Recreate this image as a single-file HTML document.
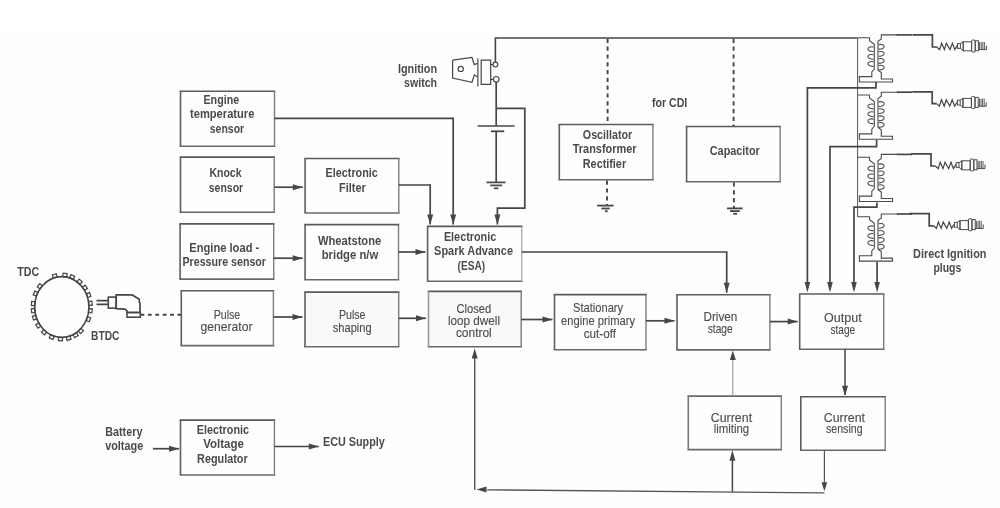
<!DOCTYPE html>
<html><head><meta charset="utf-8"><style>
html,body{margin:0;padding:0;background:#fff;}
svg{display:block;filter:grayscale(1);}
text{font-family:"Liberation Sans",sans-serif;}
</style></head><body>
<svg width="1000" height="508" viewBox="0 0 1000 508">
<rect width="1000" height="508" fill="#fff"/>
<rect y="33" width="1000" height="475" fill="#fefefe"/>
<path d="M179.7,91.3 H275.3" stroke="#5a5a5a" stroke-width="1.6"/>
<path d="M179.7,146.3 H275.3" stroke="#686868" stroke-width="1.6"/>
<path d="M180.5,91.3 V146.3" stroke="#5e5e5e" stroke-width="1.6"/>
<path d="M274.5,91.3 V146.3" stroke="#7c7c7c" stroke-width="1.4000000000000001"/>
<path d="M179.7,157.1 H275.0" stroke="#5a5a5a" stroke-width="1.6"/>
<path d="M179.7,212.2 H275.0" stroke="#686868" stroke-width="1.6"/>
<path d="M180.5,157.1 V212.2" stroke="#5e5e5e" stroke-width="1.6"/>
<path d="M274.2,157.1 V212.2" stroke="#7c7c7c" stroke-width="1.4000000000000001"/>
<path d="M179.29999999999998,223.9 H274.5" stroke="#5a5a5a" stroke-width="1.6"/>
<path d="M179.29999999999998,279.1 H274.5" stroke="#686868" stroke-width="1.6"/>
<path d="M180.1,223.9 V279.1" stroke="#5e5e5e" stroke-width="1.6"/>
<path d="M273.7,223.9 V279.1" stroke="#7c7c7c" stroke-width="1.4000000000000001"/>
<path d="M180.5,290.8 H274.2" stroke="#5a5a5a" stroke-width="1.6"/>
<path d="M180.5,345.6 H274.2" stroke="#686868" stroke-width="1.6"/>
<path d="M181.3,290.8 V345.6" stroke="#5e5e5e" stroke-width="1.6"/>
<path d="M273.4,290.8 V345.6" stroke="#7c7c7c" stroke-width="1.4000000000000001"/>
<path d="M304.3,158.5 H399.6" stroke="#5a5a5a" stroke-width="1.6"/>
<path d="M304.3,213 H399.6" stroke="#686868" stroke-width="1.6"/>
<path d="M305.1,158.5 V213" stroke="#5e5e5e" stroke-width="1.6"/>
<path d="M398.8,158.5 V213" stroke="#7c7c7c" stroke-width="1.4000000000000001"/>
<path d="M304.3,224.6 H399.3" stroke="#5a5a5a" stroke-width="1.6"/>
<path d="M304.3,279.8 H399.3" stroke="#686868" stroke-width="1.6"/>
<path d="M305.1,224.6 V279.8" stroke="#5e5e5e" stroke-width="1.6"/>
<path d="M398.5,224.6 V279.8" stroke="#7c7c7c" stroke-width="1.4000000000000001"/>
<rect x="305" y="292.1" width="93.7" height="54.6" fill="#f9f9f9"/>
<path d="M304.2,292.1 H399.5" stroke="#5a5a5a" stroke-width="1.6"/>
<path d="M304.2,346.7 H399.5" stroke="#686868" stroke-width="1.6"/>
<path d="M305,292.1 V346.7" stroke="#5e5e5e" stroke-width="1.6"/>
<path d="M398.7,292.1 V346.7" stroke="#7c7c7c" stroke-width="1.4000000000000001"/>
<path d="M426.8,226.4 H522.5" stroke="#5a5a5a" stroke-width="1.6"/>
<path d="M426.8,281.2 H522.5" stroke="#686868" stroke-width="1.6"/>
<path d="M427.6,226.4 V281.2" stroke="#5e5e5e" stroke-width="1.6"/>
<path d="M521.7,226.4 V281.2" stroke="#b0b0b0" stroke-width="1.4000000000000001"/>
<rect x="428.5" y="291.4" width="92.7" height="55.3" fill="#f9f9f9"/>
<path d="M427.7,291.4 H522.0" stroke="#5a5a5a" stroke-width="1.6"/>
<path d="M427.7,346.7 H522.0" stroke="#686868" stroke-width="1.6"/>
<path d="M428.5,291.4 V346.7" stroke="#9a9a9a" stroke-width="1.6"/>
<path d="M521.2,291.4 V346.7" stroke="#7c7c7c" stroke-width="1.4000000000000001"/>
<path d="M553.7,294.6 H646.8" stroke="#5a5a5a" stroke-width="1.6"/>
<path d="M553.7,349.8 H646.8" stroke="#686868" stroke-width="1.6"/>
<path d="M554.5,294.6 V349.8" stroke="#5e5e5e" stroke-width="1.6"/>
<path d="M646,294.6 V349.8" stroke="#7c7c7c" stroke-width="1.4000000000000001"/>
<path d="M676.2,294.8 H770.6999999999999" stroke="#5a5a5a" stroke-width="1.6"/>
<path d="M676.2,349.9 H770.6999999999999" stroke="#686868" stroke-width="1.6"/>
<path d="M677,294.8 V349.9" stroke="#5e5e5e" stroke-width="1.6"/>
<path d="M769.9,294.8 V349.9" stroke="#7c7c7c" stroke-width="1.4000000000000001"/>
<path d="M798.9000000000001,294 H884.5" stroke="#5a5a5a" stroke-width="1.6"/>
<path d="M798.9000000000001,349.2 H884.5" stroke="#686868" stroke-width="1.6"/>
<path d="M799.7,294 V349.2" stroke="#5e5e5e" stroke-width="1.6"/>
<path d="M883.7,294 V349.2" stroke="#7c7c7c" stroke-width="1.4000000000000001"/>
<path d="M687.5,396.1 H782.0999999999999" stroke="#6a6a6a" stroke-width="1.6"/>
<path d="M687.5,449.6 H782.0999999999999" stroke="#6a6a6a" stroke-width="1.6"/>
<path d="M688.3,396.1 V449.6" stroke="#7a7a7a" stroke-width="1.6"/>
<path d="M781.3,396.1 V449.6" stroke="#7c7c7c" stroke-width="1.4000000000000001"/>
<path d="M800.0,396.7 H886.0" stroke="#5a5a5a" stroke-width="1.6"/>
<path d="M800.0,450.2 H886.0" stroke="#686868" stroke-width="1.6"/>
<path d="M800.8,396.7 V450.2" stroke="#5e5e5e" stroke-width="1.6"/>
<path d="M885.2,396.7 V450.2" stroke="#7c7c7c" stroke-width="1.4000000000000001"/>
<path d="M179.7,420.1 H275.2" stroke="#5a5a5a" stroke-width="1.6"/>
<path d="M179.7,475 H275.2" stroke="#686868" stroke-width="1.6"/>
<path d="M180.5,420.1 V475" stroke="#5e5e5e" stroke-width="1.6"/>
<path d="M274.4,420.1 V475" stroke="#7c7c7c" stroke-width="1.4000000000000001"/>
<path d="M558.5,124.5 H653.6999999999999" stroke="#5a5a5a" stroke-width="1.6"/>
<path d="M558.5,179.8 H653.6999999999999" stroke="#686868" stroke-width="1.6"/>
<path d="M559.3,124.5 V179.8" stroke="#5e5e5e" stroke-width="1.6"/>
<path d="M652.9,124.5 V179.8" stroke="#7c7c7c" stroke-width="1.4000000000000001"/>
<path d="M685.8000000000001,126.5 H780.9" stroke="#5a5a5a" stroke-width="1.6"/>
<path d="M685.8000000000001,181.8 H780.9" stroke="#686868" stroke-width="1.6"/>
<path d="M686.6,126.5 V181.8" stroke="#5e5e5e" stroke-width="1.6"/>
<path d="M780.1,126.5 V181.8" stroke="#7c7c7c" stroke-width="1.4000000000000001"/>
<polyline points="274.5,187.2 302.8,187.2" fill="none" stroke="#464646" stroke-width="1.7"/>
<polygon points="302.8,187.2 292.8,184.2 292.8,190.2" fill="#464646"/>
<polyline points="273.7,258.2 302.7,258.2" fill="none" stroke="#464646" stroke-width="1.7"/>
<polygon points="302.7,258.2 292.7,255.2 292.7,261.2" fill="#464646"/>
<polyline points="273.4,317 302.5,317" fill="none" stroke="#464646" stroke-width="1.7"/>
<polygon points="302.5,317.0 292.5,314.0 292.5,320.0" fill="#464646"/>
<polyline points="398.7,318.3 426,318.3" fill="none" stroke="#464646" stroke-width="1.7"/>
<polygon points="426.0,318.3 416.0,315.3 416.0,321.3" fill="#464646"/>
<polyline points="398.5,252 425.5,252" fill="none" stroke="#464646" stroke-width="1.7"/>
<polygon points="425.5,252.0 415.5,249.0 415.5,255.0" fill="#464646"/>
<polyline points="274.5,118.4 453.2,118.4 453.2,224.5" fill="none" stroke="#464646" stroke-width="1.7"/>
<polygon points="453.2,224.5 450.2,214.5 456.2,214.5" fill="#464646"/>
<polyline points="398.8,185 430.2,185 430.2,224.5" fill="none" stroke="#464646" stroke-width="1.7"/>
<polygon points="430.2,224.5 427.2,214.5 433.2,214.5" fill="#464646"/>
<polyline points="521.2,319.5 552.5,319.5" fill="none" stroke="#464646" stroke-width="1.7"/>
<polygon points="552.5,319.5 542.5,316.5 542.5,322.5" fill="#464646"/>
<polyline points="646,320.8 674.5,320.8" fill="none" stroke="#464646" stroke-width="1.7"/>
<polygon points="674.5,320.8 664.5,317.8 664.5,323.8" fill="#464646"/>
<polyline points="769.9,321.6 797.7,321.6" fill="none" stroke="#464646" stroke-width="1.7"/>
<polygon points="797.7,321.6 787.7,318.6 787.7,324.6" fill="#464646"/>
<polyline points="521.7,252 726.7,252 726.7,292.7" fill="none" stroke="#464646" stroke-width="1.7"/>
<polygon points="726.7,292.7 723.7,282.7 729.7,282.7" fill="#464646"/>
<polyline points="845,349.2 845,395" fill="none" stroke="#464646" stroke-width="1.5"/>
<polygon points="845.0,395.8 842.0,385.8 848.0,385.8" fill="#464646"/>
<polyline points="732.8,395.5 732.8,358" fill="none" stroke="#8a8a8a" stroke-width="1.0"/>
<polygon points="732.8,350.6 729.8,360.0 735.8,360.0" fill="#464646"/>
<polyline points="824.4,450.2 824.4,485" fill="none" stroke="#555" stroke-width="1.2"/>
<polygon points="824.4,491.2 821.6,482.2 827.2,482.2" fill="#464646"/>
<polyline points="824.4,492.9 487,489.8" fill="none" stroke="#555" stroke-width="1.3"/>
<polygon points="476.5,489.6 486.5,486.6 486.5,492.6" fill="#464646"/>
<polyline points="474.7,489.8 474.7,356" fill="none" stroke="#505050" stroke-width="1.4"/>
<polygon points="474.7,348.5 471.7,358.5 477.7,358.5" fill="#464646"/>
<polyline points="732.4,491.8 732.4,458" fill="none" stroke="#464646" stroke-width="1.5"/>
<polygon points="732.4,450.2 729.4,460.7 735.4,460.7" fill="#464646"/>
<polyline points="152.9,448.7 179,448.7" fill="none" stroke="#464646" stroke-width="1.7"/>
<polygon points="179.0,448.7 169.0,445.7 169.0,451.7" fill="#464646"/>
<polyline points="274.4,446.5 318.8,446.5" fill="none" stroke="#464646" stroke-width="1.7"/>
<polygon points="318.8,446.5 308.8,443.5 308.8,449.5" fill="#464646"/>
<polyline points="140.5,314.8 181.3,314.8" fill="none" stroke="#464646" stroke-width="1.9" stroke-dasharray="3.8,3.6"/>
<polyline points="495.4,62.2 495.4,38 857.5,38" fill="none" stroke="#464646" stroke-width="1.6"/>
<circle cx="495.4" cy="64.6" r="2.4" fill="none" stroke="#464646" stroke-width="1.2"/>
<circle cx="496.2" cy="79.3" r="2.8" fill="none" stroke="#464646" stroke-width="1.2"/>
<path d="M452.6,60.2 L472,57.5 L474.3,64.6 L477.3,63.4 M452.6,60.2 L452.6,78 L472,82.3 L474.3,75 L477.3,76.8" fill="none" stroke="#464646" stroke-width="1.2"/>
<circle cx="460.7" cy="68.9" r="2.6" fill="none" stroke="#464646" stroke-width="1.2"/>
<path d="M477.9,58.3 L477.9,86.6 M481.2,60.2 L490.7,60.2 L490.7,84.3 L481.2,84.3 Z" fill="none" stroke="#464646" stroke-width="1.2"/>
<path d="M490.7,64.6 L493,64.6 M490.7,79.3 L493.4,79.3" fill="none" stroke="#464646" stroke-width="1.2"/>
<polyline points="496.2,82.1 496.2,126" fill="none" stroke="#464646" stroke-width="1.7"/>
<polyline points="477.6,126 514.5,126" fill="none" stroke="#464646" stroke-width="1.6"/>
<polyline points="490.9,131.3 504.2,131.3" fill="none" stroke="#464646" stroke-width="1.8"/>
<polyline points="496.2,131.3 496.2,182.4" fill="none" stroke="#464646" stroke-width="1.7"/>
<polyline points="486.4,182.4 505.6,182.4" fill="none" stroke="#464646" stroke-width="1.7"/>
<polyline points="490.3,185.4 502.1,185.4" fill="none" stroke="#464646" stroke-width="1.7"/>
<polyline points="493.8,188.3 498.3,188.3" fill="none" stroke="#464646" stroke-width="1.7"/>
<polyline points="496.2,108.3 524.8,108.3 524.8,208.1 497.4,208.1 497.4,224.5" fill="none" stroke="#464646" stroke-width="1.7"/>
<polygon points="497.4,224.5 494.4,214.5 500.4,214.5" fill="#464646"/>
<polyline points="607.6,38.8 607.6,124.5" fill="none" stroke="#464646" stroke-width="1.9" stroke-dasharray="4.2,3.6"/>
<polyline points="607,180.6 607,205.4" fill="none" stroke="#464646" stroke-width="1.9" stroke-dasharray="4.2,3.6"/>
<polyline points="597.1,205.6 613.6,205.6" fill="none" stroke="#464646" stroke-width="1.8"/>
<polyline points="601.4,208.5 609.7,208.5" fill="none" stroke="#464646" stroke-width="1.8"/>
<polyline points="605,211.2 607.7,211.2" fill="none" stroke="#464646" stroke-width="1.8"/>
<polyline points="733.6,38.8 733.6,126.2" fill="none" stroke="#464646" stroke-width="1.9" stroke-dasharray="4.2,3.6"/>
<polyline points="733.9,182.4 733.9,208.4" fill="none" stroke="#464646" stroke-width="1.9" stroke-dasharray="4.2,3.6"/>
<polyline points="727,208.4 742.5,208.4" fill="none" stroke="#464646" stroke-width="1.8"/>
<polyline points="730,211.1 739.8,211.1" fill="none" stroke="#464646" stroke-width="1.8"/>
<polyline points="733.2,213.8 737.1,213.8" fill="none" stroke="#464646" stroke-width="1.8"/>
<polyline points="857.6,38 857.6,216.8" fill="none" stroke="#555" stroke-width="1.0"/>
<path d="M857.6,37.7 L869.5,37.7 L869.5,40.7 L874.3,44.2 L874.3,69.0 L871.8,71.9 L871.8,76.6 L859.4,76.6 L859.4,82.0 L892.5,82.0 L892.5,79.0 L881.3,79.0 L881.3,72.5 L878,70.2 L878,41.2 L881.3,38.900000000000006 L881.3,34.900000000000006 L898,34.900000000000006" fill="none" stroke="#4a4a4a" stroke-width="1.1"/>
<polyline points="896.8,34.900000000000006 912,34.900000000000006" fill="none" stroke="#464646" stroke-width="1.7"/>
<path d="M873.6,47.0 C866,45.5 866,52.0 873.6,51.5" fill="none" stroke="#4a4a4a" stroke-width="1.1"/>
<path d="M873.6,54.7 C866,53.2 866,59.7 873.6,59.2" fill="none" stroke="#4a4a4a" stroke-width="1.1"/>
<path d="M873.6,61.80000000000001 C866,60.30000000000001 866,66.80000000000001 873.6,66.30000000000001" fill="none" stroke="#4a4a4a" stroke-width="1.1"/>
<path d="M878.6,44.6 C886,43.1 886,49.6 878.6,49.1" fill="none" stroke="#4a4a4a" stroke-width="1.1"/>
<path d="M878.6,51.7 C886,50.2 886,56.7 878.6,56.2" fill="none" stroke="#4a4a4a" stroke-width="1.1"/>
<path d="M878.6,58.800000000000004 C886,57.300000000000004 886,63.800000000000004 878.6,63.300000000000004" fill="none" stroke="#4a4a4a" stroke-width="1.1"/>
<path d="M878.6,65.5 C886,64.0 886,70.5 878.6,70.0" fill="none" stroke="#4a4a4a" stroke-width="1.1"/>
<path d="M857.6,95 L869.5,95 L869.5,98 L874.3,101.5 L874.3,126.3 L871.8,129.2 L871.8,133.9 L859.4,133.9 L859.4,139.3 L892.5,139.3 L892.5,136.3 L881.3,136.3 L881.3,129.8 L878,127.5 L878,98.5 L881.3,96.2 L881.3,92.2 L898,92.2" fill="none" stroke="#4a4a4a" stroke-width="1.1"/>
<polyline points="896.8,92.2 912,92.2" fill="none" stroke="#464646" stroke-width="1.7"/>
<path d="M873.6,104.3 C866,102.8 866,109.3 873.6,108.8" fill="none" stroke="#4a4a4a" stroke-width="1.1"/>
<path d="M873.6,112.0 C866,110.5 866,117.0 873.6,116.5" fill="none" stroke="#4a4a4a" stroke-width="1.1"/>
<path d="M873.6,119.1 C866,117.6 866,124.1 873.6,123.6" fill="none" stroke="#4a4a4a" stroke-width="1.1"/>
<path d="M878.6,101.9 C886,100.4 886,106.9 878.6,106.4" fill="none" stroke="#4a4a4a" stroke-width="1.1"/>
<path d="M878.6,109.0 C886,107.5 886,114.0 878.6,113.5" fill="none" stroke="#4a4a4a" stroke-width="1.1"/>
<path d="M878.6,116.1 C886,114.6 886,121.1 878.6,120.6" fill="none" stroke="#4a4a4a" stroke-width="1.1"/>
<path d="M878.6,122.8 C886,121.3 886,127.8 878.6,127.3" fill="none" stroke="#4a4a4a" stroke-width="1.1"/>
<path d="M857.6,157.2 L869.5,157.2 L869.5,160.2 L874.3,163.7 L874.3,188.5 L871.8,191.39999999999998 L871.8,196.1 L859.4,196.1 L859.4,201.5 L892.5,201.5 L892.5,198.5 L881.3,198.5 L881.3,192.0 L878,189.7 L878,160.7 L881.3,158.39999999999998 L881.3,154.39999999999998 L898,154.39999999999998" fill="none" stroke="#4a4a4a" stroke-width="1.1"/>
<polyline points="896.8,154.39999999999998 912,154.39999999999998" fill="none" stroke="#464646" stroke-width="1.7"/>
<path d="M873.6,166.5 C866,165.0 866,171.5 873.6,171.0" fill="none" stroke="#4a4a4a" stroke-width="1.1"/>
<path d="M873.6,174.2 C866,172.7 866,179.2 873.6,178.7" fill="none" stroke="#4a4a4a" stroke-width="1.1"/>
<path d="M873.6,181.29999999999998 C866,179.79999999999998 866,186.29999999999998 873.6,185.79999999999998" fill="none" stroke="#4a4a4a" stroke-width="1.1"/>
<path d="M878.6,164.1 C886,162.6 886,169.1 878.6,168.6" fill="none" stroke="#4a4a4a" stroke-width="1.1"/>
<path d="M878.6,171.2 C886,169.7 886,176.2 878.6,175.7" fill="none" stroke="#4a4a4a" stroke-width="1.1"/>
<path d="M878.6,178.29999999999998 C886,176.79999999999998 886,183.29999999999998 878.6,182.79999999999998" fill="none" stroke="#4a4a4a" stroke-width="1.1"/>
<path d="M878.6,185.0 C886,183.5 886,190.0 878.6,189.5" fill="none" stroke="#4a4a4a" stroke-width="1.1"/>
<path d="M857.6,216.8 L869.5,216.8 L869.5,219.8 L874.3,223.3 L874.3,248.10000000000002 L871.8,251.0 L871.8,255.70000000000002 L859.4,255.70000000000002 L859.4,261.1 L892.5,261.1 L892.5,258.1 L881.3,258.1 L881.3,251.60000000000002 L878,249.3 L878,220.3 L881.3,218.0 L881.3,214.0 L898,214.0" fill="none" stroke="#4a4a4a" stroke-width="1.1"/>
<polyline points="896.8,214.0 912,214.0" fill="none" stroke="#464646" stroke-width="1.7"/>
<path d="M873.6,226.10000000000002 C866,224.60000000000002 866,231.10000000000002 873.6,230.60000000000002" fill="none" stroke="#4a4a4a" stroke-width="1.1"/>
<path d="M873.6,233.8 C866,232.3 866,238.8 873.6,238.3" fill="none" stroke="#4a4a4a" stroke-width="1.1"/>
<path d="M873.6,240.9 C866,239.4 866,245.9 873.6,245.4" fill="none" stroke="#4a4a4a" stroke-width="1.1"/>
<path d="M878.6,223.70000000000002 C886,222.20000000000002 886,228.70000000000002 878.6,228.20000000000002" fill="none" stroke="#4a4a4a" stroke-width="1.1"/>
<path d="M878.6,230.8 C886,229.3 886,235.8 878.6,235.3" fill="none" stroke="#4a4a4a" stroke-width="1.1"/>
<path d="M878.6,237.9 C886,236.4 886,242.9 878.6,242.4" fill="none" stroke="#4a4a4a" stroke-width="1.1"/>
<path d="M878.6,244.60000000000002 C886,243.10000000000002 886,249.60000000000002 878.6,249.10000000000002" fill="none" stroke="#4a4a4a" stroke-width="1.1"/>
<polyline points="912.4,34.9 932.4,34.9 932.4,47 936.8,47" fill="none" stroke="#464646" stroke-width="1.7"/>
<polyline points="936.8,47 939.6,49.6 941.6,43.2 944.4,49.6 946.4,43.2 950.0,49.6 952.4,43.2 954.8,49.6 957.2,45.6" fill="none" stroke="#464646" stroke-width="1.2"/>
<rect x="957.6" y="43.6" width="2.8" height="4.8" fill="none" stroke="#4a4a4a" stroke-width="1"/>
<path d="M960.4,43.6 L963.2,41.8 L963.2,50.8 L960.4,48.4" fill="none" stroke="#4a4a4a" stroke-width="1"/>
<rect x="963.2" y="41.8" width="8.4" height="9" fill="none" stroke="#4a4a4a" stroke-width="1"/>
<rect x="971.6" y="40" width="3.6" height="12" rx="1" fill="none" stroke="#4a4a4a" stroke-width="1"/>
<rect x="975.2" y="40.8" width="3.2" height="10" fill="none" stroke="#4a4a4a" stroke-width="1"/>
<line x1="979.6" y1="42" x2="979.6" y2="49.6" stroke="#4a4a4a" stroke-width="0.9"/>
<line x1="981.2" y1="42" x2="981.2" y2="49.6" stroke="#4a4a4a" stroke-width="0.9"/>
<line x1="982.8" y1="42" x2="982.8" y2="49.6" stroke="#4a4a4a" stroke-width="0.9"/>
<line x1="984.4" y1="42" x2="984.4" y2="49.6" stroke="#4a4a4a" stroke-width="0.9"/>
<path d="M978.4,49.6 L986.4,49.6 L986.4,45.6" fill="none" stroke="#4a4a4a" stroke-width="1"/>
<polyline points="912.2,91.8 932.2,91.8 932.2,103.6 936.6,103.6" fill="none" stroke="#464646" stroke-width="1.7"/>
<polyline points="936.6,103.6 939.4000000000001,106.19999999999999 941.4000000000001,99.8 944.2,106.19999999999999 946.2,99.8 949.8000000000001,106.19999999999999 952.2,99.8 954.6,106.19999999999999 957.0000000000001,102.19999999999999" fill="none" stroke="#464646" stroke-width="1.2"/>
<rect x="957.4000000000001" y="100.19999999999999" width="2.8" height="4.8" fill="none" stroke="#4a4a4a" stroke-width="1"/>
<path d="M960.2,100.19999999999999 L963.0000000000001,98.39999999999999 L963.0000000000001,107.39999999999999 L960.2,105.0" fill="none" stroke="#4a4a4a" stroke-width="1"/>
<rect x="963.0000000000001" y="98.39999999999999" width="8.4" height="9" fill="none" stroke="#4a4a4a" stroke-width="1"/>
<rect x="971.4000000000001" y="96.6" width="3.6" height="12" rx="1" fill="none" stroke="#4a4a4a" stroke-width="1"/>
<rect x="975.0000000000001" y="97.39999999999999" width="3.2" height="10" fill="none" stroke="#4a4a4a" stroke-width="1"/>
<line x1="979.4000000000001" y1="98.6" x2="979.4000000000001" y2="106.19999999999999" stroke="#4a4a4a" stroke-width="0.9"/>
<line x1="981.0000000000001" y1="98.6" x2="981.0000000000001" y2="106.19999999999999" stroke="#4a4a4a" stroke-width="0.9"/>
<line x1="982.6" y1="98.6" x2="982.6" y2="106.19999999999999" stroke="#4a4a4a" stroke-width="0.9"/>
<line x1="984.2" y1="98.6" x2="984.2" y2="106.19999999999999" stroke="#4a4a4a" stroke-width="0.9"/>
<path d="M978.2,106.19999999999999 L986.2,106.19999999999999 L986.2,102.19999999999999" fill="none" stroke="#4a4a4a" stroke-width="1"/>
<polyline points="911,153.8 931,153.8 931,166 935.4,166" fill="none" stroke="#464646" stroke-width="1.7"/>
<polyline points="935.4,166 938.2,168.6 940.2,162.2 943.0,168.6 945.0,162.2 948.6,168.6 951.0,162.2 953.4,168.6 955.8000000000001,164.6" fill="none" stroke="#464646" stroke-width="1.2"/>
<rect x="956.2" y="162.6" width="2.8" height="4.8" fill="none" stroke="#4a4a4a" stroke-width="1"/>
<path d="M959.0,162.6 L961.8000000000001,160.8 L961.8000000000001,169.8 L959.0,167.4" fill="none" stroke="#4a4a4a" stroke-width="1"/>
<rect x="961.8000000000001" y="160.8" width="8.4" height="9" fill="none" stroke="#4a4a4a" stroke-width="1"/>
<rect x="970.2" y="159" width="3.6" height="12" rx="1" fill="none" stroke="#4a4a4a" stroke-width="1"/>
<rect x="973.8000000000001" y="159.8" width="3.2" height="10" fill="none" stroke="#4a4a4a" stroke-width="1"/>
<line x1="978.2" y1="161" x2="978.2" y2="168.6" stroke="#4a4a4a" stroke-width="0.9"/>
<line x1="979.8000000000001" y1="161" x2="979.8000000000001" y2="168.6" stroke="#4a4a4a" stroke-width="0.9"/>
<line x1="981.4" y1="161" x2="981.4" y2="168.6" stroke="#4a4a4a" stroke-width="0.9"/>
<line x1="983.0" y1="161" x2="983.0" y2="168.6" stroke="#4a4a4a" stroke-width="0.9"/>
<path d="M977.0,168.6 L985.0,168.6 L985.0,164.6" fill="none" stroke="#4a4a4a" stroke-width="1"/>
<polyline points="909.2,213.6 929.2,213.6 929.2,225.8 933.6,225.8" fill="none" stroke="#464646" stroke-width="1.7"/>
<polyline points="933.6,225.8 936.4000000000001,228.4 938.4000000000001,222.0 941.2,228.4 943.2,222.0 946.8000000000001,228.4 949.2,222.0 951.6,228.4 954.0000000000001,224.4" fill="none" stroke="#464646" stroke-width="1.2"/>
<rect x="954.4000000000001" y="222.4" width="2.8" height="4.8" fill="none" stroke="#4a4a4a" stroke-width="1"/>
<path d="M957.2,222.4 L960.0000000000001,220.60000000000002 L960.0000000000001,229.60000000000002 L957.2,227.20000000000002" fill="none" stroke="#4a4a4a" stroke-width="1"/>
<rect x="960.0000000000001" y="220.60000000000002" width="8.4" height="9" fill="none" stroke="#4a4a4a" stroke-width="1"/>
<rect x="968.4000000000001" y="218.8" width="3.6" height="12" rx="1" fill="none" stroke="#4a4a4a" stroke-width="1"/>
<rect x="972.0000000000001" y="219.60000000000002" width="3.2" height="10" fill="none" stroke="#4a4a4a" stroke-width="1"/>
<line x1="976.4000000000001" y1="220.8" x2="976.4000000000001" y2="228.4" stroke="#4a4a4a" stroke-width="0.9"/>
<line x1="978.0000000000001" y1="220.8" x2="978.0000000000001" y2="228.4" stroke="#4a4a4a" stroke-width="0.9"/>
<line x1="979.6" y1="220.8" x2="979.6" y2="228.4" stroke="#4a4a4a" stroke-width="0.9"/>
<line x1="981.2" y1="220.8" x2="981.2" y2="228.4" stroke="#4a4a4a" stroke-width="0.9"/>
<path d="M975.2,228.4 L983.2,228.4 L983.2,224.4" fill="none" stroke="#4a4a4a" stroke-width="1"/>
<polyline points="876,82 876,87.9 807.4,87.9 807.4,284" fill="none" stroke="#464646" stroke-width="1.7"/>
<polygon points="807.4,292.4 804.6,282.0 810.2,282.0" fill="#464646"/>
<polyline points="876.6,139.9 876.6,146.7 830,146.7 830,284" fill="none" stroke="#464646" stroke-width="1.7"/>
<polygon points="830.0,292.4 827.2,282.0 832.8,282.0" fill="#464646"/>
<polyline points="876.9,202.6 876.9,207.2 854,207.2 854,284" fill="none" stroke="#464646" stroke-width="1.7"/>
<polygon points="854.0,292.4 851.2,282.0 856.8,282.0" fill="#464646"/>
<polyline points="877.1,262 877.1,284" fill="none" stroke="#464646" stroke-width="1.7"/>
<polygon points="877.1,292.4 874.3,282.0 879.9,282.0" fill="#464646"/>
<ellipse cx="61.8" cy="307" rx="27.1" ry="30.4" fill="none" stroke="#464646" stroke-width="1.6"/>
<rect x="-1.6" y="-2" width="3.4" height="4" transform="translate(54.8,276.0) rotate(-105.8)" fill="none" stroke="#464646" stroke-width="1.25"/>
<rect x="-1.6" y="-2" width="3.4" height="4" transform="translate(64.9,275.2) rotate(-83.1)" fill="none" stroke="#464646" stroke-width="1.25"/>
<rect x="-1.6" y="-2" width="3.4" height="4" transform="translate(72.1,277.1) rotate(-66.6)" fill="none" stroke="#464646" stroke-width="1.25"/>
<rect x="-1.6" y="-2" width="3.4" height="4" transform="translate(79.5,281.8) rotate(-48.6)" fill="none" stroke="#464646" stroke-width="1.25"/>
<rect x="-1.6" y="-2" width="3.4" height="4" transform="translate(84.8,287.8) rotate(-33.5)" fill="none" stroke="#464646" stroke-width="1.25"/>
<rect x="-1.6" y="-2" width="3.4" height="4" transform="translate(88.5,295.1) rotate(-19.5)" fill="none" stroke="#464646" stroke-width="1.25"/>
<rect x="-1.6" y="-2" width="3.4" height="4" transform="translate(90.3,303.3) rotate(-5.8)" fill="none" stroke="#464646" stroke-width="1.25"/>
<rect x="-1.6" y="-2" width="3.4" height="4" transform="translate(90.3,310.7) rotate(5.8)" fill="none" stroke="#464646" stroke-width="1.25"/>
<rect x="-1.6" y="-2" width="3.4" height="4" transform="translate(88.3,319.2) rotate(20.2)" fill="none" stroke="#464646" stroke-width="1.25"/>
<rect x="-1.6" y="-2" width="3.4" height="4" transform="translate(80.8,331.0) rotate(45.2)" fill="none" stroke="#464646" stroke-width="1.25"/>
<rect x="-1.6" y="-2" width="3.4" height="4" transform="translate(75.5,335.1) rotate(58.5)" fill="none" stroke="#464646" stroke-width="1.25"/>
<rect x="-1.6" y="-2" width="3.4" height="4" transform="translate(68.6,338.1) rotate(74.7)" fill="none" stroke="#464646" stroke-width="1.25"/>
<rect x="-1.6" y="-2" width="3.4" height="4" transform="translate(60.5,339.0) rotate(92.9)" fill="none" stroke="#464646" stroke-width="1.25"/>
<rect x="-1.6" y="-2" width="3.4" height="4" transform="translate(51.8,337.0) rotate(112.8)" fill="none" stroke="#464646" stroke-width="1.25"/>
<rect x="-1.6" y="-2" width="3.4" height="4" transform="translate(44.1,332.1) rotate(131.6)" fill="none" stroke="#464646" stroke-width="1.25"/>
<rect x="-1.6" y="-2" width="3.4" height="4" transform="translate(38.4,325.5) rotate(147.8)" fill="none" stroke="#464646" stroke-width="1.25"/>
<rect x="-1.6" y="-2" width="3.4" height="4" transform="translate(34.7,317.6) rotate(162.7)" fill="none" stroke="#464646" stroke-width="1.25"/>
<rect x="-1.6" y="-2" width="3.4" height="4" transform="translate(33.3,310.7) rotate(174.2)" fill="none" stroke="#464646" stroke-width="1.25"/>
<rect x="-1.6" y="-2" width="3.4" height="4" transform="translate(33.3,303.6) rotate(-174.7)" fill="none" stroke="#464646" stroke-width="1.25"/>
<rect x="-1.6" y="-2" width="3.4" height="4" transform="translate(35.7,293.7) rotate(-157.9)" fill="none" stroke="#464646" stroke-width="1.25"/>
<rect x="-1.6" y="-2" width="3.4" height="4" transform="translate(39.9,286.3) rotate(-143.0)" fill="none" stroke="#464646" stroke-width="1.25"/>
<path d="M96.5,300.6 L108.3,300.6 M96.5,304.4 L108.3,304.4" stroke="#464646" stroke-width="1.7"/>
<rect x="108.3" y="297.1" width="7.9" height="11" fill="none" stroke="#464646" stroke-width="1.6"/>
<path d="M116.2,294.9 L132.2,294.9 L139.3,299.2 L139.3,302.2 L140,303 L140,312.5 L127,312.5 L127,311 Q126,309.4 124.5,309.2 L116.2,308.6 Z" fill="none" stroke="#464646" stroke-width="1.7"/>
<rect x="127" y="312.5" width="13.3" height="4.7" fill="none" stroke="#464646" stroke-width="1.6"/>
<text x="203.5" y="103.9" font-size="12.7" font-weight="bold" fill="#4a4a4a" text-anchor="start" textLength="35.6" lengthAdjust="spacingAndGlyphs">Engine</text>
<text x="190" y="118.1" font-size="12.7" font-weight="bold" fill="#4a4a4a" text-anchor="start" textLength="64.4" lengthAdjust="spacingAndGlyphs">temperature</text>
<text x="209.8" y="132.5" font-size="12.7" font-weight="bold" fill="#4a4a4a" text-anchor="start" textLength="34.3" lengthAdjust="spacingAndGlyphs">sensor</text>
<text x="209.4" y="176.9" font-size="12.7" font-weight="bold" fill="#4a4a4a" text-anchor="start" textLength="32.2" lengthAdjust="spacingAndGlyphs">Knock</text>
<text x="208.8" y="191.9" font-size="12.7" font-weight="bold" fill="#4a4a4a" text-anchor="start" textLength="34.3" lengthAdjust="spacingAndGlyphs">sensor</text>
<text x="325.6" y="177" font-size="12.7" font-weight="bold" fill="#4a4a4a" text-anchor="start" textLength="52.2" lengthAdjust="spacingAndGlyphs">Electronic</text>
<text x="339" y="191.8" font-size="12.7" font-weight="bold" fill="#4a4a4a" text-anchor="start" textLength="26.8" lengthAdjust="spacingAndGlyphs">Filter</text>
<text x="189.2" y="251.7" font-size="12.7" font-weight="bold" fill="#4a4a4a" text-anchor="start" textLength="70.1" lengthAdjust="spacingAndGlyphs">Engine load -</text>
<text x="182.5" y="265.9" font-size="12.7" font-weight="bold" fill="#4a4a4a" text-anchor="start" textLength="83.5" lengthAdjust="spacingAndGlyphs">Pressure sensor</text>
<text x="318" y="245" font-size="12.7" font-weight="bold" fill="#4a4a4a" text-anchor="start" textLength="63.2" lengthAdjust="spacingAndGlyphs">Wheatstone</text>
<text x="321.7" y="259.4" font-size="12.7" font-weight="bold" fill="#4a4a4a" text-anchor="start" textLength="56.6" lengthAdjust="spacingAndGlyphs">bridge n/w</text>
<text x="443.9" y="240.5" font-size="12.7" font-weight="bold" fill="#4a4a4a" text-anchor="start" textLength="52.3" lengthAdjust="spacingAndGlyphs">Electronic</text>
<text x="434.1" y="254.5" font-size="12.7" font-weight="bold" fill="#4a4a4a" text-anchor="start" textLength="78.9" lengthAdjust="spacingAndGlyphs">Spark Advance</text>
<text x="457.5" y="269.6" font-size="12.7" font-weight="bold" fill="#4a4a4a" text-anchor="start" textLength="27.7" lengthAdjust="spacingAndGlyphs">(ESA)</text>
<text x="397.9" y="72.7" font-size="12.7" font-weight="bold" fill="#4a4a4a" text-anchor="start" textLength="39.2" lengthAdjust="spacingAndGlyphs">Ignition</text>
<text x="404" y="86.9" font-size="12.7" font-weight="bold" fill="#4a4a4a" text-anchor="start" textLength="33.1" lengthAdjust="spacingAndGlyphs">switch</text>
<text x="652" y="107.3" font-size="12.7" font-weight="bold" fill="#4a4a4a" text-anchor="start" textLength="35.3" lengthAdjust="spacingAndGlyphs">for CDI</text>
<text x="582.8" y="138.6" font-size="12.7" font-weight="bold" fill="#4a4a4a" text-anchor="start" textLength="49.4" lengthAdjust="spacingAndGlyphs">Oscillator</text>
<text x="572.8" y="153.1" font-size="12.7" font-weight="bold" fill="#4a4a4a" text-anchor="start" textLength="63.7" lengthAdjust="spacingAndGlyphs">Transformer</text>
<text x="582.8" y="167.7" font-size="12.7" font-weight="bold" fill="#4a4a4a" text-anchor="start" textLength="43.3" lengthAdjust="spacingAndGlyphs">Rectifier</text>
<text x="709.8" y="155" font-size="12.7" font-weight="bold" fill="#4a4a4a" text-anchor="start" textLength="50" lengthAdjust="spacingAndGlyphs">Capacitor</text>
<text x="913.1" y="257.6" font-size="12.7" font-weight="bold" fill="#4a4a4a" text-anchor="start" textLength="73.4" lengthAdjust="spacingAndGlyphs">Direct Ignition</text>
<text x="933.4" y="272" font-size="12.7" font-weight="bold" fill="#4a4a4a" text-anchor="start" textLength="27.9" lengthAdjust="spacingAndGlyphs">plugs</text>
<text x="105.2" y="435.6" font-size="12.7" font-weight="bold" fill="#4a4a4a" text-anchor="start" textLength="37.2" lengthAdjust="spacingAndGlyphs">Battery</text>
<text x="105.2" y="450" font-size="12.7" font-weight="bold" fill="#4a4a4a" text-anchor="start" textLength="38" lengthAdjust="spacingAndGlyphs">voltage</text>
<text x="196.8" y="433.8" font-size="12.7" font-weight="bold" fill="#4a4a4a" text-anchor="start" textLength="52.2" lengthAdjust="spacingAndGlyphs">Electronic</text>
<text x="203.2" y="448" font-size="12.7" font-weight="bold" fill="#4a4a4a" text-anchor="start" textLength="40.6" lengthAdjust="spacingAndGlyphs">Voltage</text>
<text x="197.1" y="463.1" font-size="12.7" font-weight="bold" fill="#4a4a4a" text-anchor="start" textLength="50.5" lengthAdjust="spacingAndGlyphs">Regulator</text>
<text x="323" y="445.6" font-size="12.7" font-weight="bold" fill="#4a4a4a" text-anchor="start" textLength="61.8" lengthAdjust="spacingAndGlyphs">ECU Supply</text>
<text x="17.3" y="276" font-size="12.7" font-weight="bold" fill="#4a4a4a" text-anchor="start" textLength="22" lengthAdjust="spacingAndGlyphs">TDC</text>
<text x="91" y="340.1" font-size="12.7" font-weight="bold" fill="#4a4a4a" text-anchor="start" textLength="28.4" lengthAdjust="spacingAndGlyphs">BTDC</text>
<text x="213.7" y="318.9" font-size="12.1" font-weight="normal" fill="#4c4c4c" text-anchor="start" textLength="26.6" lengthAdjust="spacingAndGlyphs" stroke="#4c4c4c" stroke-width="0.12">Pulse</text>
<text x="200.5" y="330.7" font-size="12.1" font-weight="normal" fill="#4c4c4c" text-anchor="start" textLength="52" lengthAdjust="spacingAndGlyphs" stroke="#4c4c4c" stroke-width="0.12">generator</text>
<text x="338.9" y="319.1" font-size="12.1" font-weight="normal" fill="#4c4c4c" text-anchor="start" textLength="26.6" lengthAdjust="spacingAndGlyphs" stroke="#4c4c4c" stroke-width="0.12">Pulse</text>
<text x="332.8" y="331.9" font-size="12.1" font-weight="normal" fill="#4c4c4c" text-anchor="start" textLength="38.8" lengthAdjust="spacingAndGlyphs" stroke="#4c4c4c" stroke-width="0.12">shaping</text>
<text x="456.5" y="312.8" font-size="12.1" font-weight="normal" fill="#4c4c4c" text-anchor="start" textLength="34.8" lengthAdjust="spacingAndGlyphs" stroke="#4c4c4c" stroke-width="0.12">Closed</text>
<text x="447.9" y="324.8" font-size="12.1" font-weight="normal" fill="#4c4c4c" text-anchor="start" textLength="52.1" lengthAdjust="spacingAndGlyphs" stroke="#4c4c4c" stroke-width="0.12">loop dwell</text>
<text x="455.9" y="337.3" font-size="12.1" font-weight="normal" fill="#4c4c4c" text-anchor="start" textLength="35.9" lengthAdjust="spacingAndGlyphs" stroke="#4c4c4c" stroke-width="0.12">control</text>
<text x="573.1" y="312.4" font-size="12.1" font-weight="normal" fill="#4c4c4c" text-anchor="start" textLength="50" lengthAdjust="spacingAndGlyphs" stroke="#4c4c4c" stroke-width="0.12">Stationary</text>
<text x="561.1" y="325.1" font-size="12.1" font-weight="normal" fill="#4c4c4c" text-anchor="start" textLength="74" lengthAdjust="spacingAndGlyphs" stroke="#4c4c4c" stroke-width="0.12">engine primary</text>
<text x="583.7" y="337.6" font-size="12.1" font-weight="normal" fill="#4c4c4c" text-anchor="start" textLength="32.3" lengthAdjust="spacingAndGlyphs" stroke="#4c4c4c" stroke-width="0.12">cut-off</text>
<text x="703.4" y="320.8" font-size="12.1" font-weight="normal" fill="#4c4c4c" text-anchor="start" textLength="34" lengthAdjust="spacingAndGlyphs" stroke="#4c4c4c" stroke-width="0.12">Driven</text>
<text x="707.7" y="333.2" font-size="12.1" font-weight="normal" fill="#4c4c4c" text-anchor="start" textLength="25" lengthAdjust="spacingAndGlyphs" stroke="#4c4c4c" stroke-width="0.12">stage</text>
<text x="824.1" y="321.5" font-size="12.1" font-weight="normal" fill="#4c4c4c" text-anchor="start" textLength="37.6" lengthAdjust="spacingAndGlyphs" stroke="#4c4c4c" stroke-width="0.12">Output</text>
<text x="830.4" y="333.6" font-size="12.1" font-weight="normal" fill="#4c4c4c" text-anchor="start" textLength="24.8" lengthAdjust="spacingAndGlyphs" stroke="#4c4c4c" stroke-width="0.12">stage</text>
<text x="710.7" y="421.5" font-size="12.1" font-weight="normal" fill="#4c4c4c" text-anchor="start" textLength="41.4" lengthAdjust="spacingAndGlyphs" stroke="#4c4c4c" stroke-width="0.12">Current</text>
<text x="713.7" y="433" font-size="12.1" font-weight="normal" fill="#4c4c4c" text-anchor="start" textLength="35.4" lengthAdjust="spacingAndGlyphs" stroke="#4c4c4c" stroke-width="0.12">limiting</text>
<text x="823.8" y="421.5" font-size="12.1" font-weight="normal" fill="#4c4c4c" text-anchor="start" textLength="41.2" lengthAdjust="spacingAndGlyphs" stroke="#4c4c4c" stroke-width="0.12">Current</text>
<text x="826" y="433" font-size="12.1" font-weight="normal" fill="#4c4c4c" text-anchor="start" textLength="36.6" lengthAdjust="spacingAndGlyphs" stroke="#4c4c4c" stroke-width="0.12">sensing</text>
</svg>
</body></html>
